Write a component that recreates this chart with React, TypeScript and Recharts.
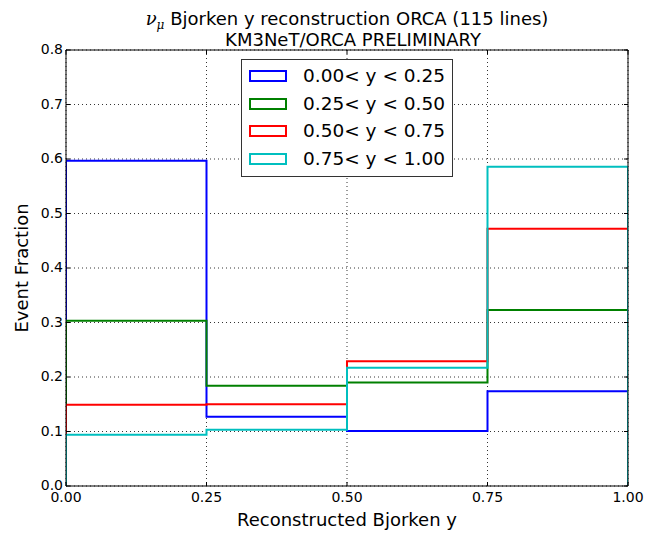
import React from 'react';
import { LineChart, Line, XAxis, YAxis, CartesianGrid, Legend } from 'recharts';

// ---- data ----
const binEdges = [0, 0.25, 0.5, 0.75, 1.0];
const xTicks = [0, 0.25, 0.5, 0.75, 1.0];
const yTicks = [0, 0.1, 0.2, 0.3, 0.4, 0.5, 0.6, 0.7, 0.8];
const seriesNames = ['0.00< y < 0.25', '0.25< y < 0.50', '0.50< y < 0.75', '0.75< y < 1.00'];
const seriesColors = ['#0000ff', '#008000', '#ff0000', '#00bfbf'];
const fracY0to25 = [0.597, 0.127, 0.101, 0.174];
const fracY25to50 = [0.303, 0.184, 0.19, 0.323];
const fracY50to75 = [0.149, 0.15, 0.229, 0.472];
const fracY75to100 = [0.094, 0.103, 0.217, 0.586];
const titleMain = ' Bjorken y reconstruction ORCA (115 lines)';
const titleSub = 'KM3NeT/ORCA PRELIMINARY';
const xLabel = 'Reconstructed Bjorken y';
const yLabel = 'Event Fraction';

const toSteps = (vals: number[]) => [
  { x: binEdges[0], y: 0 },
  ...binEdges.map((e, i) => ({ x: e, y: vals[Math.min(i, vals.length - 1)] })),
  { x: binEdges[binEdges.length - 1], y: 0 },
];

const allSeries = [fracY0to25, fracY25to50, fracY50to75, fracY75to100].map((v, i) => ({
  name: seriesNames[i],
  color: seriesColors[i],
  data: toSteps(v),
}));

const FONT = '"DejaVu Sans", sans-serif';
const TICK_LEN = 4;
const TICK_MARGIN = 6;

const BottomTick = (props: any) => {
  const { x, y, payload } = props;
  const ay = y - TICK_MARGIN;
  return (
    <g>
      <line x1={x} x2={x} y1={ay} y2={ay - TICK_LEN} stroke="#000" strokeWidth={1} />
      <text x={x} y={ay + 16} textAnchor="middle" fontFamily={FONT} fontSize={14} fill="#000">
        {Number(payload.value).toFixed(2)}
      </text>
    </g>
  );
};

const LeftTick = (props: any) => {
  const { x, y, payload } = props;
  const ax = x + TICK_MARGIN;
  return (
    <g>
      <line x1={ax} x2={ax + TICK_LEN} y1={y} y2={y} stroke="#000" strokeWidth={1} />
      <text x={ax - 3} y={y + 4} textAnchor="end" fontFamily={FONT} fontSize={14} fill="#000">
        {Number(payload.value).toFixed(1)}
      </text>
    </g>
  );
};

const TopTick = (props: any) => {
  const { x, y } = props;
  return <line x1={x} x2={x} y1={y} y2={y + TICK_LEN} stroke="#000" strokeWidth={1} />;
};

const RightTick = (props: any) => {
  const { x, y } = props;
  return <line x1={x} x2={x - TICK_LEN} y1={y} y2={y} stroke="#000" strokeWidth={1} />;
};

const LegendBox = (props: any) => {
  const payload = (props.payload || []) as any[];
  return (
    <div
      style={{
        boxSizing: 'border-box',
        width: 212,
        height: 118,
        border: '1px solid #333',
        background: '#fff',
        position: 'relative',
        fontFamily: FONT,
        fontSize: 18.5,
        color: '#000',
      }}
    >
      {payload.map((p, i) => (
        <div
          key={p.value}
          style={{ position: 'absolute', left: 0, top: 5 + i * 27.7, height: 22, width: '100%' }}
        >
          <div
            style={{
              position: 'absolute',
              left: 7,
              top: 5,
              width: 38,
              height: 12,
              boxSizing: 'border-box',
              border: `2px solid ${p.color}`,
            }}
          />
          <div style={{ position: 'absolute', left: 61, top: 0, lineHeight: '22px', whiteSpace: 'nowrap' }}>
            {p.value}
          </div>
        </div>
      ))}
    </div>
  );
};

export default function App() {
  return (
    <div style={{ position: 'absolute', left: 0, top: 0, width: 648, height: 533, background: '#fff' }}>
      <LineChart width={648} height={533} margin={{ top: 49, right: 19, bottom: 46, left: 65 }}>
        <CartesianGrid stroke="#000" strokeWidth={0.8} strokeDasharray="1 3" xAxisId={0} yAxisId={0} />
        <XAxis
          xAxisId={0}
          type="number"
          dataKey="x"
          domain={[0, 1]}
          ticks={xTicks}
          height={1}
          tickSize={0}
          tickMargin={TICK_MARGIN}
          tickLine={false}
          axisLine={{ stroke: '#000', strokeWidth: 1 }}
          tick={<BottomTick />}
          interval={0}
          allowDataOverflow
        />
        <XAxis
          xAxisId="top"
          orientation="top"
          type="number"
          dataKey="x"
          domain={[0, 1]}
          ticks={xTicks}
          height={1}
          tickSize={0}
          tickMargin={0}
          tickLine={false}
          axisLine={{ stroke: '#000', strokeWidth: 1 }}
          tick={<TopTick />}
          interval={0}
          allowDataOverflow
        />
        <YAxis
          yAxisId={0}
          type="number"
          domain={[0, 0.8]}
          ticks={yTicks}
          width={1}
          tickSize={0}
          tickMargin={TICK_MARGIN}
          tickLine={false}
          axisLine={{ stroke: '#000', strokeWidth: 1 }}
          tick={<LeftTick />}
          interval={0}
          allowDataOverflow
        />
        <YAxis
          yAxisId="right"
          orientation="right"
          type="number"
          domain={[0, 0.8]}
          ticks={yTicks}
          width={1}
          tickSize={0}
          tickMargin={0}
          tickLine={false}
          axisLine={{ stroke: '#000', strokeWidth: 1 }}
          tick={<RightTick />}
          interval={0}
          allowDataOverflow
        />
        {allSeries.map((s) => (
          <Line
            key={s.name}
            xAxisId={0}
            yAxisId={0}
            data={s.data}
            dataKey="y"
            name={s.name}
            type="stepAfter"
            stroke={s.color}
            strokeWidth={2}
            dot={false}
            activeDot={false}
            isAnimationActive={false}
          />
        ))}
        <Legend
          layout="vertical"
          align="center"
          verticalAlign="middle"
          content={<LegendBox />}
          wrapperStyle={{ left: 241, top: 59, width: 212, height: 118 }}
        />
      </LineChart>
      <svg
        width={648}
        height={533}
        style={{ position: 'absolute', left: 0, top: 0, pointerEvents: 'none' }}
      >
        <text x={347} y={25} textAnchor="middle" fontFamily={FONT} fontSize={18} fill="#000">
          <tspan fontFamily='"DejaVu Serif", serif' fontStyle="italic">ν</tspan>
          <tspan fontFamily='"DejaVu Serif", serif' fontStyle="italic" fontSize={12} dy={4}>μ</tspan>
          <tspan dy={-4}>{titleMain}</tspan>
        </text>
        <text x={353} y={46} textAnchor="middle" fontFamily={FONT} fontSize={18} fill="#000">
          {titleSub}
        </text>
        <text x={347} y={526} textAnchor="middle" fontFamily={FONT} fontSize={18} fill="#000">
          {xLabel}
        </text>
        <text
          x={28}
          y={268}
          textAnchor="middle"
          fontFamily={FONT}
          fontSize={18}
          fill="#000"
          transform="rotate(-90, 28, 268)"
        >
          {yLabel}
        </text>
      </svg>
    </div>
  );
}
